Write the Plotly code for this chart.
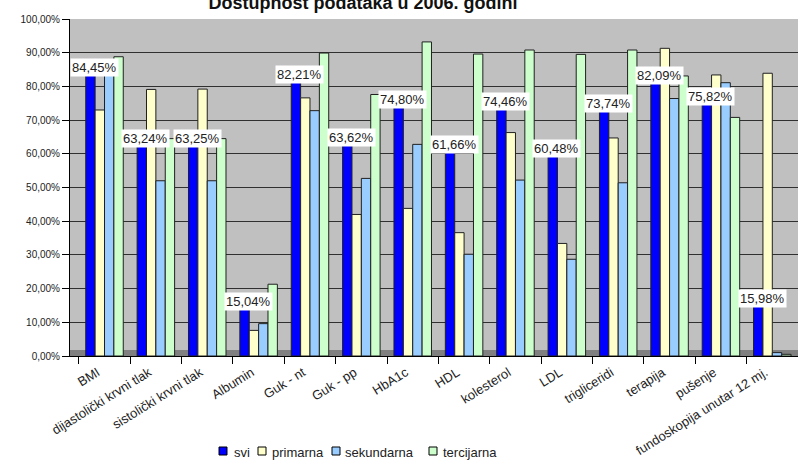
import plotly.graph_objects as go

categories = ["BMI", "dijastolički krvni tlak", "sistolički krvni tlak", "Albumin",
              "Guk - nt", "Guk - pp", "HbA1c", "HDL", "kolesterol", "LDL",
              "trigliceridi", "terapija", "pušenje", "fundoskopija unutar 12 mj."]

svi = [84.45, 63.24, 63.25, 15.04, 82.21, 63.62, 74.80, 61.66, 74.46, 60.48, 73.74, 82.09, 75.82, 15.98]
primarna = [73.0, 79.1, 79.2, 7.6, 76.6, 42.0, 43.8, 36.6, 66.3, 33.4, 64.7, 91.3, 83.4, 83.9]
sekundarna = [86.0, 52.0, 52.0, 9.6, 72.8, 52.7, 62.8, 30.2, 52.2, 28.7, 51.4, 76.4, 81.1, 1.0]
tercijarna = [88.8, 64.5, 64.5, 21.3, 89.9, 77.6, 93.2, 89.6, 90.8, 89.5, 90.8, 83.1, 70.8, 0.5]

series_names = ["svi", "primarna", "sekundarna", "tercijarna"]
series_values = [svi, primarna, sekundarna, tercijarna]
series_colors = ["#0000FF", "#FFFFCC", "#99CCFF", "#CCFFCC"]

label_texts = [f"{v:.2f}".replace(".", ",") + "%" for v in svi]

# layout geometry (pixels)
W_PX, H_PX = 798, 464
M_L, M_R, M_T, M_B = 70, 0, 19, 108
PLOT_W = W_PX - M_L - M_R
PLOT_H = H_PX - M_T - M_B


def px_x(p):
    return (p - M_L) / PLOT_W


def px_y(p):
    return (H_PX - M_B - p) / PLOT_H


FONT = "Liberation Sans, Arial, sans-serif"

fig = go.Figure()
for name, vals, color in zip(series_names, series_values, series_colors):
    fig.add_trace(go.Bar(
        x=categories, y=vals, name=name,
        marker=dict(color=color, line=dict(color="#202020", width=1)),
        hoverinfo="skip", showlegend=False,
    ))

for cat, v, t in zip(categories, svi, label_texts):
    fig.add_annotation(
        x=cat, y=v, text=t, showarrow=False, xref="x", yref="y",
        xshift=-10, yshift=4, yanchor="middle",
        bgcolor="white", borderpad=1,
        font=dict(family=FONT, size=13, color="#222222"),
    )

# darker floor strip of the Excel 3D chart
fig.add_shape(type="rect", xref="paper", yref="paper", x0=0, x1=1,
              y0=0, y1=px_y(350), fillcolor="#808080", line=dict(width=0), layer="below")

# compact Excel-style legend
legend_square_left = [219, 258, 332, 429]
legend_text_left = [232, 270, 343, 441]
legend_center_y = 451
sq = 8
for name, color, sx, tx in zip(series_names, series_colors, legend_square_left, legend_text_left):
    fig.add_shape(type="rect", xref="paper", yref="paper",
                  x0=px_x(sx), x1=px_x(sx + sq),
                  y0=px_y(legend_center_y + sq / 2), y1=px_y(legend_center_y - sq / 2),
                  fillcolor=color, line=dict(color="black", width=1))
    fig.add_annotation(x=px_x(tx), y=px_y(legend_center_y + 1), xref="paper", yref="paper",
                       text=name, showarrow=False, xanchor="left", yanchor="middle",
                       font=dict(family=FONT, size=13, color="#222222"))

fig.update_layout(
    width=W_PX, height=H_PX,
    margin=dict(l=M_L, r=M_R, t=M_T, b=M_B),
    paper_bgcolor="white",
    plot_bgcolor="#C0C0C0",
    separators=", ",
    barmode="group",
    bargap=0.27,
    bargroupgap=0.0,
    font=dict(family=FONT, color="#222222"),
    title=dict(text="<b>Dostupnost podataka u 2006. godini</b>",
               x=0.455, xanchor="center", y=0.9935, yref="container", yanchor="middle",
               font=dict(family=FONT, size=18, color="#111111")),
    showlegend=False,
)

fig.update_yaxes(
    range=[0, 100], dtick=10, tickformat=".2f", ticksuffix="%",
    showgrid=True, gridcolor="#303030", gridwidth=1,
    showline=True, linecolor="black", linewidth=1,
    ticks="outside", ticklen=7, tickcolor="black",
    tickfont=dict(size=10), zeroline=False, automargin=False,
)
fig.update_xaxes(
    tickangle=-32, tickson="boundaries", ticks="outside", ticklen=7, tickcolor="black",
    showline=True, linecolor="black", linewidth=1,
    tickfont=dict(size=13), showgrid=False, automargin=False,
    ticklabelshift=-7, ticklabelstandoff=3,
)

fig.write_html("out.html", config={"displayModeBar": False},
               post_script="document.body.style.margin='0';document.body.style.overflow='hidden';")
